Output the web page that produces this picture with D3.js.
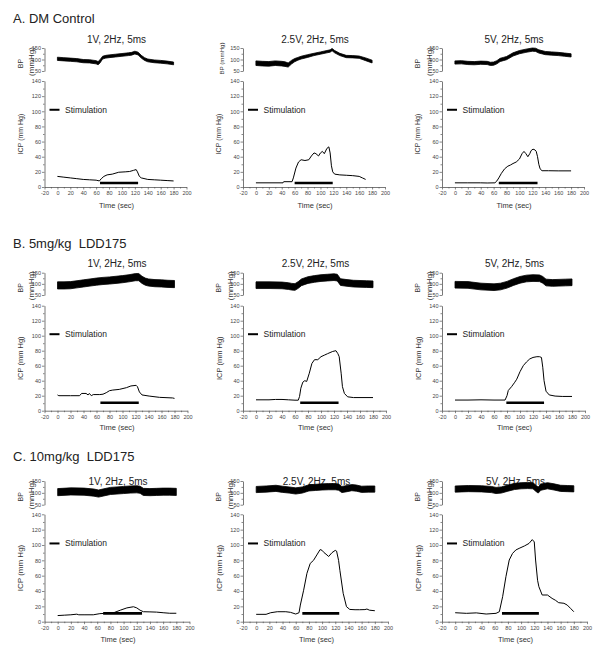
<!DOCTYPE html>
<html><head><meta charset="utf-8">
<script src="https://cdn.jsdelivr.net/npm/d3@7"></script>
<style>
body{margin:0;background:#fff}
svg{display:block}
text{font-family:"Liberation Sans",Arial,Helvetica,sans-serif}
</style>
</head><body>
<svg id="chart" width="607" height="657"></svg>
<script>
// ---------------- DATA ----------------
const rowTitles = ["A. DM Control", "B. 5mg/kg  LDD175", "C. 10mg/kg  LDD175"];
const colTitles = ["1V, 2Hz, 5ms", "2.5V, 2Hz, 5ms", "5V, 2Hz, 5ms"];
const xTickValues = [-20, 0, 20, 40, 60, 80, 100, 120, 140, 160, 180, 200];
const icpTickValues = [0, 20, 40, 60, 80, 100, 120, 140];
const bpTickValues = [50, 100, 150];
const legendLabel = "Stimulation";
const xAxisTitle = "Time (sec)";
const icpAxisTitle = "ICP (mm Hg)";

// A1
const icpT_A1 = [0,10,20,30,40,50,60,65,68,72,77,85,95,105,112,118,122,124,127,130,140,150,160,170,180];
const icpV_A1 = [14,13,12,11,10,9.5,9,8,11,14,16,17,19.5,20,20.5,22,23,20,14,12,10,9.5,9,8.5,8];
const bpT_A1 = [0,10,20,30,40,50,55,60,63,66,70,75,80,90,100,110,115,120,125,130,135,140,150,160,170,180];
const bpV_A1 = [103,101,99,97,93,92,90,88,84,92,108,112,114,117,120,123,125,130,126,112,102,96,92,90,87,83];
const bpW_A1 = [7,7,7,7,7,7,7,7,7,7,6,6,6,6,6,6,6,6,6,6,6,6,6,6,6,6];
const stim_A1 = [66, 125, 5.3];

// A2
const icpT_A2 = [0,42,43,56,58,62,66,70,76,82,86,90,93,97,100,103,106,110,113,115,117,119,122,130,140,150,160,165,170];
const icpV_A2 = [5.5,5.5,7,7,12,25,33,36,35,36,41,45,44,41,45,47,44,51,53,45,28,20,17,16,15.5,15,14,12,10];
const bpT_A2 = [0,10,20,30,40,45,50,55,60,65,70,80,90,100,110,115,118,122,130,140,150,160,170,180];
const bpV_A2 = [84,82,81,84,82,80,76,88,97,103,108,115,122,128,134,137,143,134,122,113,112,110,101,91];
const bpW_A2 = [10,10,10,10,10,10,9,8,7,6,6,6,5,5,5,5,5,5,5,5,5,5,6,6];
const stim_A2 = [60, 119, 5.3];

// A3
const icpT_A3 = [0,20,40,50,62,65,68,72,77,82,86,90,95,100,104,107,110,113,116,118,121,124,126,128,130,132,135,145,160,180];
const icpV_A3 = [5.5,5.5,5.5,5.3,5.5,8,12,18,24,27.5,29,31,33,37,44,47,44,40,44,48,50,49,47,40,30,24,21.5,21.5,21.3,21.3];
const bpT_A3 = [0,10,20,30,40,50,55,60,65,70,75,80,90,100,110,120,125,130,140,150,160,170,180];
const bpV_A3 = [87,88,85,84,86,85,81,82,88,98,102,106,122,132,138,143,142,135,128,126,124,121,118];
const bpW_A3 = [7,7,7,7,7,7,7,7,7,7,7,7,7,7,7,7,7,7,7,7,7,7,7];
const stim_A3 = [68, 128, 5.2];

// B1
const icpT_B1 = [0,2,10,20,34,37,44,47,49,52,55,65,70,75,80,85,95,106,113,121,123,126,130,141,157,177,180];
const icpV_B1 = [21,20,20,20,20,23,23,21,23,20,21.5,21.5,22,24,26.7,27.5,28.4,30.7,33,33.8,32,25,21,19.5,17.8,17,16.4];
const bpT_B1 = [0,10,20,30,40,50,60,70,80,90,100,110,120,125,130,135,140,150,160,170,180];
const bpV_B1 = [93,93,94,98,102,106,110,113,115,118,121,125,130,130,118,110,106,103,102,100,99];
const bpW_B1 = [16,16,16,16,16,16,16,16,16,16,16,16,16,16,16,16,16,16,16,16,16];
const stim_B1 = [66, 125, 10.7];

// B2
const icpT_B2 = [0,20,30,40,50,60,65,67,69,72,75,78,82,86,90,95,100,105,110,118,123,126,128,131,133,136,141,150,180];
const icpV_B2 = [14.5,14.5,15,15,14.5,14,14,19,30,38,40,39,50,63,68,68,72,74,76,79,80,76,72,50,32,23,18.5,17.5,17.5];
const bpT_B2 = [0,20,40,50,55,60,65,70,80,90,100,110,120,125,130,140,150,160,170,180];
const bpV_B2 = [94,94,93,90,87,86,95,107,117,122,126,128,130,128,108,104,101,100,99,98];
const bpW_B2 = [15,15,15,15,15,15,15,15,15,15,15,15,15,15,15,15,15,15,15,15];
const stim_B2 = [68, 127, 10.7];

// B3
const icpT_B3 = [0,20,40,60,77,80,82,87,92,95,100,105,110,115,120,126,130,133,135,137,140,145,154,165,180];
const icpV_B3 = [14.2,14.2,14.5,14.2,14.2,20,27,32,38,42,52,60,65,69,71,72,72,71,58,40,26,21,19.5,19,19];
const bpT_B3 = [0,20,40,60,70,80,90,100,110,120,130,135,140,150,160,170,180];
const bpV_B3 = [96,95,88,85,88,96,108,118,124,126,125,118,106,104,105,106,107];
const bpW_B3 = [15,15,15,15,15,15,15,15,15,15,15,15,15,15,15,15,15];
const stim_B3 = [79, 137, 10.7];

// C1
const icpT_C1 = [0,10,20,29,32,40,54,64,75,85,95,105,115,120,125,130,140,150,160,170,180];
const icpV_C1 = [8,8.5,9,9.8,9,9,9,10.5,11,11.7,15,18,19.5,18,15,13,12.8,12.5,11.7,11,11];
const bpT_C1 = [0,20,40,55,62,70,80,90,100,110,120,125,130,140,150,160,170,180];
const bpV_C1 = [103,106,105,101,97,102,108,110,112,114,115,113,104,103,104,105,105,104];
const bpW_C1 = [15,15,15,15,15,15,15,15,15,15,15,15,15,15,15,15,15,15];
const stim_C1 = [69, 128, 10.9];

// C2
const icpT_C2 = [0,15,22,32,45,52,60,65,67,72,77,82,87,92,97,100,103,106,110,115,120,122,125,127,132,137,142,150,157,165,168,172,180];
const icpV_C2 = [9.6,9.6,11.7,13,13,12.2,10,11.7,21.7,41,63,76,80,87,94,93,90,88,85,90,93,92,80,67,37,19.6,16,15.6,15.6,15.8,16.5,15,14.3];
const bpT_C2 = [0,15,30,40,50,60,70,80,90,100,110,120,125,130,138,145,152,160,170,180];
const bpV_C2 = [114,116,119,115,112,108,112,121,123,125,126,126,124,114,118,122,120,115,116,116];
const bpW_C2 = [13,13,13,13,13,13,13,13,13,13,13,13,13,13,13,13,13,13,13,13];
const stim_C2 = [70, 126, 10.9];

// C3
const icpT_C3 = [0,17,32,47,62,67,72,77,82,87,92,97,105,112,117,120,122,125,127,132,140,147,152,157,165,170,175,180];
const icpV_C3 = [11.7,10.9,11.5,10,10.9,13,32.6,58.7,80.4,89,93.5,95.6,98.7,102,107,104,80.4,54,45.6,34.8,34.8,30.4,28,24.8,24,21.7,17.4,13];
const bpT_C3 = [0,20,40,55,62,70,80,90,100,110,118,123,126,130,140,150,160,170,180];
const bpV_C3 = [116,118,117,114,110,112,120,127,130,131,130,118,112,124,130,125,119,118,117];
const bpW_C3 = [13,13,13,13,13,13,13,13,13,13,13,13,13,13,13,13,13,13,13];
const stim_C3 = [71, 127, 10.9];

// ---------------- LAYOUT (style only) ----------------
const rowGeom = [
  {title: 22.5, sub: 43.3, bpTop: 48, bpBot: 71, icpTop: 81, icpBot: 187, time: 207.5, w: 142, icpFs: 7},
  {title: 247.5, sub: 266.5, bpTop: 272.7, bpBot: 295, icpTop: 305.7, icpBot: 410.7, time: 430, w: 143, icpFs: 7.5},
  {title: 460.5, sub: 485, bpTop: 481, bpBot: 504.7, icpTop: 514.3, icpBot: 621.7, time: 641.5, w: 145, icpFs: 8}
];
const colLeft = [44.5, 243, 442];

const panels = [
  {r:0,c:0,icpT:icpT_A1,icpV:icpV_A1,bpT:bpT_A1,bpV:bpV_A1,bpW:bpW_A1,stim:stim_A1,split:true},
  {r:0,c:1,icpT:icpT_A2,icpV:icpV_A2,bpT:bpT_A2,bpV:bpV_A2,bpW:bpW_A2,stim:stim_A2,split:false},
  {r:0,c:2,icpT:icpT_A3,icpV:icpV_A3,bpT:bpT_A3,bpV:bpV_A3,bpW:bpW_A3,stim:stim_A3,split:true},
  {r:1,c:0,icpT:icpT_B1,icpV:icpV_B1,bpT:bpT_B1,bpV:bpV_B1,bpW:bpW_B1,stim:stim_B1,split:true},
  {r:1,c:1,icpT:icpT_B2,icpV:icpV_B2,bpT:bpT_B2,bpV:bpV_B2,bpW:bpW_B2,stim:stim_B2,split:true},
  {r:1,c:2,icpT:icpT_B3,icpV:icpV_B3,bpT:bpT_B3,bpV:bpV_B3,bpW:bpW_B3,stim:stim_B3,split:true},
  {r:2,c:0,icpT:icpT_C1,icpV:icpV_C1,bpT:bpT_C1,bpV:bpV_C1,bpW:bpW_C1,stim:stim_C1,split:true},
  {r:2,c:1,icpT:icpT_C2,icpV:icpV_C2,bpT:bpT_C2,bpV:bpV_C2,bpW:bpW_C2,stim:stim_C2,split:true},
  {r:2,c:2,icpT:icpT_C3,icpV:icpV_C3,bpT:bpT_C3,bpV:bpV_C3,bpW:bpW_C3,stim:stim_C3,split:true}
];

const svg = d3.select("#chart");
const axisColor = "#555";
const labelColor = "#444";

// row titles
rowTitles.forEach((t, i) => {
  svg.append("text").attr("x", 13).attr("y", rowGeom[i].title)
    .attr("font-size", 13).attr("fill", "#222").style("white-space", "pre").text(t);
});

function range(a, b, s) { return d3.range(a, b + 0.001, s); }

panels.forEach(p => {
  const g = rowGeom[p.r];
  const xl = colLeft[p.c];
  const x = d3.scaleLinear().domain([-20, 200]).range([xl, xl + g.w]);
  const yI = d3.scaleLinear().domain([0, 140]).range([g.icpBot, g.icpTop]);
  const yB = d3.scaleLinear().domain([50, 150]).range([g.bpBot, g.bpTop]);
  const G = svg.append("g");

  // subtitle
  G.append("text").attr("x", x(90) + 1).attr("y", g.sub).attr("text-anchor", "middle")
    .attr("font-size", 10).attr("fill", "#222").text(colTitles[p.c]);

  // --- axes ---
  function styleAxis(sel) {
    sel.select(".domain").attr("stroke", axisColor).attr("stroke-width", 0.8);
    sel.selectAll(".tick line").attr("stroke", axisColor).attr("stroke-width", 0.7);
    sel.selectAll(".tick text").attr("fill", labelColor).attr("font-size", 5.5)
      .attr("font-family", "Liberation Sans, Arial, sans-serif");
  }
  // x axis
  const xa = G.append("g").attr("transform", `translate(0,${g.icpBot})`)
    .call(d3.axisBottom(x).tickValues(xTickValues).tickFormat(d => String(d))
      .tickSize(2.5).tickSizeOuter(0).tickPadding(1.5));
  styleAxis(xa);
  const xm = G.append("g").attr("transform", `translate(0,${g.icpBot})`)
    .call(d3.axisBottom(x).tickValues(range(-10, 190, 20)).tickFormat("").tickSize(1.5).tickSizeOuter(0));
  styleAxis(xm); xm.select(".domain").remove();

  // ICP axis
  const ya = G.append("g").attr("transform", `translate(${xl},0)`)
    .call(d3.axisLeft(yI).tickValues(icpTickValues).tickFormat(d => String(d))
      .tickSize(2.5).tickSizeOuter(0).tickPadding(1));
  styleAxis(ya);
  const ym = G.append("g").attr("transform", `translate(${xl},0)`)
    .call(d3.axisLeft(yI).tickValues(range(10, 130, 20)).tickFormat("").tickSize(1.5).tickSizeOuter(0));
  styleAxis(ym); ym.select(".domain").remove();

  // BP axis
  const ba = G.append("g").attr("transform", `translate(${xl},0)`)
    .call(d3.axisLeft(yB).tickValues(bpTickValues).tickFormat(d => String(d))
      .tickSize(2.5).tickSizeOuter(0).tickPadding(1));
  styleAxis(ba);
  const bm = G.append("g").attr("transform", `translate(${xl},0)`)
    .call(d3.axisLeft(yB).tickValues([75, 125]).tickFormat("").tickSize(1.5).tickSizeOuter(0));
  styleAxis(bm); bm.select(".domain").remove();

  // axis titles
  G.append("text").attr("x", x(90) + 1).attr("y", g.time).attr("text-anchor", "middle")
    .attr("font-size", 7.5).attr("fill", "#333").text(xAxisTitle);
  const icpMid = (g.icpTop + g.icpBot) / 2;
  G.append("text").attr("transform", `translate(${xl - 24},${icpMid}) rotate(-90)`)
    .attr("dy", "0.35em").attr("text-anchor", "middle").attr("font-size", g.icpFs)
    .attr("fill", "#333").text(icpAxisTitle);
  const bpMid = (g.bpTop + g.bpBot) / 2;
  if (p.split) {
    G.append("text").attr("transform", `translate(${xl - 24},${bpMid + 4}) rotate(-90)`)
      .attr("dy", "0.35em").attr("text-anchor", "middle").attr("font-size", 7)
      .attr("fill", "#333").text("BP");
    G.append("text").attr("transform", `translate(${xl - 13},${bpMid + 2}) rotate(-90)`)
      .attr("dy", "0.35em").attr("text-anchor", "middle").attr("font-size", 8)
      .attr("fill", "#333").text("(mmHg)");
  } else {
    G.append("text").attr("transform", `translate(${xl - 21},${bpMid - 1}) rotate(-90)`)
      .attr("dy", "0.35em").attr("text-anchor", "middle").attr("font-size", 6.2)
      .attr("fill", "#333").text("BP (mmHg)");
  }

  // BP band
  const bpData = p.bpT.map((t, i) => ({t, v: p.bpV[i], w: p.bpW[i]}));
  G.append("path").datum(bpData)
    .attr("d", d3.area().x(d => x(d.t)).y0(d => yB(d.v - d.w)).y1(d => yB(d.v + d.w)))
    .attr("fill", "#000").attr("stroke", "#000").attr("stroke-width", 0.8);

  // ICP line
  const icpData = p.icpT.map((t, i) => ({t, v: p.icpV[i]}));
  G.append("path").datum(icpData)
    .attr("d", d3.line().x(d => x(d.t)).y(d => yI(d.v)))
    .attr("fill", "none").attr("stroke", "#000").attr("stroke-width", 1)
    .attr("stroke-linejoin", "round");

  // stimulation bar
  G.append("line").attr("x1", x(p.stim[0])).attr("x2", x(p.stim[1]))
    .attr("y1", yI(p.stim[2])).attr("y2", yI(p.stim[2]))
    .attr("stroke", "#000").attr("stroke-width", 2.6);

  // legend
  const ly = yI(102);
  G.append("line").attr("x1", xl + 5).attr("x2", xl + 15).attr("y1", ly).attr("y2", ly)
    .attr("stroke", "#000").attr("stroke-width", 2);
  G.append("text").attr("x", xl + 20.5).attr("y", ly).attr("dy", "0.35em")
    .attr("font-size", 8.5).attr("fill", "#222").text(legendLabel);
});
</script>
</body></html>
